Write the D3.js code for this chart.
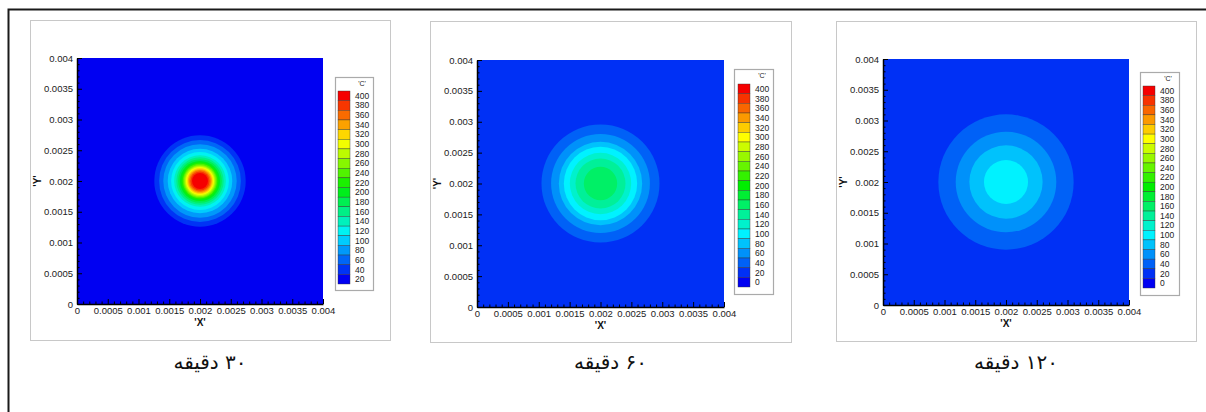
<!DOCTYPE html>
<html>
<head>
<meta charset="utf-8">
<script src="https://d3js.org/d3.v7.min.js"></script>
<style>
	body { margin: 0; padding: 0; background: #fff; }
	svg { display: block; }
	.tick text { font-family: 'Liberation Sans', Arial, sans-serif; fill: #222; }
	.axis-title { font-family: 'Liberation Sans', Arial, sans-serif; font-weight: bold; font-size: 10px; fill: #111; }
	.leg-label { font-family: 'Liberation Sans', Arial, sans-serif; font-size: 8.5px; fill: #222; }
	.caption { font-family: 'DejaVu Sans', sans-serif; font-size: 20px; fill: #111; }
</style>
</head>
<body>
<div id="chart"></div>
<script>
	// axis ticks (metres)
	var tickValues = [0, 0.0005, 0.001, 0.0015, 0.002, 0.0025, 0.003, 0.0035, 0.004];
	var tickLabels = ["0", "0.0005", "0.001", "0.0015", "0.002", "0.0025", "0.003", "0.0035", "0.004"];
	var minorTicks = [0.0001,0.0002,0.0003,0.0004,0.0006,0.0007,0.0008,0.0009,0.0011,0.0012,0.0013,0.0014,
		0.0016,0.0017,0.0018,0.0019,0.0021,0.0022,0.0023,0.0024,0.0026,0.0027,0.0028,0.0029,
		0.0031,0.0032,0.0033,0.0034,0.0036,0.0037,0.0038,0.0039];

	// colour legend levels ('C')
	var legend30 = [20,40,60,80,100,120,140,160,180,200,220,240,260,280,300,320,340,360,380,400];
	var legend60 = [0,20,40,60,80,100,120,140,160,180,200,220,240,260,280,300,320,340,360,380,400];
	var legend120 = [0,20,40,60,80,100,120,140,160,180,200,220,240,260,280,300,320,340,360,380,400];

	// hot spot centre (m)
	var centre = [0.002, 0.002];

	// level reached inside each contour ring, and the ring radius (m)
	var base30 = 20;
	var rings30 = [40,60,80,100,120,140,160,180,200,220,240,260,280,300,320,340,360,380,400];
	var radii30 = [0.000743,0.000665,0.000597,0.000525,0.00047,0.00042,0.000385,0.000355,0.000325,0.0003,
		0.00028,0.000262,0.000245,0.000228,0.00021,0.000193,0.000175,0.000155,0.00013];

	var base60 = 20;
	var rings60 = [40,60,80,100,120,140,160];
	var radii60 = [0.000956,0.0008,0.000675,0.000594,0.000497,0.000405,0.00027];

	var base120 = 20;
	var rings120 = [40,60,80,100];
	var radii120 = [0.0011,0.000818,0.000596,0.000358];

	var captions = ["\u06F3\u06F0 \u062F\u0642\u06CC\u0642\u0647", "\u06F6\u06F0 \u062F\u0642\u06CC\u0642\u0647", "\u06F1\u06F2\u06F0 \u062F\u0642\u06CC\u0642\u0647"];

	var panels = [
		{ box: [30, 20, 390, 340], plot: [77, 58, 323, 304], leg: [335, 77, 373, 290], sw: [338, 91, 350, 284],
		  legend: legend30, base: base30, rings: rings30, radii: radii30, caption: captions[0] },
		{ box: [430, 21, 791, 342], plot: [477, 60, 724, 307], leg: [734, 69, 773, 294], sw: [738, 84, 750, 287],
		  legend: legend60, base: base60, rings: rings60, radii: radii60, caption: captions[1] },
		{ box: [836, 21, 1196, 341], plot: [883, 59, 1129, 305], leg: [1140, 72, 1179, 295], sw: [1143, 86, 1155, 288],
		  legend: legend120, base: base120, rings: rings120, radii: radii120, caption: captions[2] }
	];

	var rainbow = d3.scaleLinear()
		.domain([0, 0.25, 0.5, 0.75, 1])
		.range(["#0000f2", "#00f2ff", "#00ee00", "#ffff00", "#f50000"])
		.interpolate(d3.interpolateRgb);

	var svg = d3.select("#chart").append("svg")
		.attr("width", 1206)
		.attr("height", 412);

	// outer frame
	svg.append("path")
		.attr("d", "M8.5,412 L8.5,9.5 L1206,9.5")
		.attr("fill", "none")
		.attr("stroke", "#1a1a1a")
		.attr("stroke-width", 2);

	panels.forEach(function(p){
		var lo = p.legend[0], hi = p.legend[p.legend.length - 1];
		var colorOf = function(v){ return rainbow((v - lo) / (hi - lo)); };

		var g = svg.append("g");

		g.append("rect")
			.attr("x", p.box[0] + 0.5).attr("y", p.box[1] + 0.5)
			.attr("width", p.box[2] - p.box[0]).attr("height", p.box[3] - p.box[1])
			.attr("fill", "#fff").attr("stroke", "#c8c8c8").attr("stroke-width", 1);

		var x = d3.scaleLinear().domain([0, 0.004]).range([p.plot[0], p.plot[2]]);
		var y = d3.scaleLinear().domain([0, 0.004]).range([p.plot[3], p.plot[1]]);

		var clipId = "clip" + p.plot[0];
		g.append("clipPath").attr("id", clipId).append("rect")
			.attr("x", x(0)).attr("y", y(0.004))
			.attr("width", x(0.004) - x(0)).attr("height", y(0) - y(0.004));

		var field = g.append("g").attr("clip-path", "url(#" + clipId + ")");
		field.append("rect")
			.attr("x", x(0)).attr("y", y(0.004))
			.attr("width", x(0.004) - x(0)).attr("height", y(0) - y(0.004))
			.attr("fill", colorOf(p.base));

		var ringData = p.rings.map(function(l, i){ return { level: l, r: p.radii[i] }; });
		field.selectAll("ellipse")
			.data(ringData)
			.enter().append("ellipse")
			.attr("cx", x(centre[0]))
			.attr("cy", y(centre[1]))
			.attr("rx", function(d){ return x(d.r) - x(0); })
			.attr("ry", function(d){ return y(0) - y(d.r); })
			.attr("fill", function(d){ return colorOf(d.level); });

		// axes, ticks pointing into the plot
		var xAxis = d3.axisBottom(x).tickValues(tickValues)
			.tickFormat(function(d, i){ return tickLabels[i]; })
			.tickSizeInner(-5).tickSizeOuter(0).tickPadding(3);
		var yAxis = d3.axisLeft(y).tickValues(tickValues)
			.tickFormat(function(d, i){ return tickLabels[i]; })
			.tickSizeInner(-5).tickSizeOuter(0).tickPadding(4);

		var gx = g.append("g").attr("transform", "translate(0," + y(0) + ")").call(xAxis);
		var gy = g.append("g").attr("transform", "translate(" + x(0) + ",0)").call(yAxis);
		[gx, gy].forEach(function(a){
			a.selectAll("text").style("font-size", "9.5px");
			a.selectAll("line").attr("stroke", "#000").attr("stroke-width", 1);
			a.select(".domain").attr("stroke", "#000").attr("stroke-width", 1.5);
		});

		g.append("g").attr("transform", "translate(0," + y(0) + ")")
			.call(d3.axisBottom(x).tickValues(minorTicks).tickFormat("").tickSize(-2.5))
			.call(function(a){ a.select(".domain").remove(); a.selectAll("line").attr("stroke", "#000"); });
		g.append("g").attr("transform", "translate(" + x(0) + ",0)")
			.call(d3.axisLeft(y).tickValues(minorTicks).tickFormat("").tickSize(-2.5))
			.call(function(a){ a.select(".domain").remove(); a.selectAll("line").attr("stroke", "#000"); });

		g.append("text").attr("class", "axis-title")
			.attr("x", x(0.002)).attr("y", y(0) + 22)
			.attr("text-anchor", "middle")
			.text("'X'");
		g.append("text").attr("class", "axis-title")
			.attr("transform", "translate(" + (x(0) - 36) + "," + y(0.002) + ") rotate(-90)")
			.attr("text-anchor", "middle")
			.text("'Y'");

		// colour legend
		g.append("rect")
			.attr("x", p.leg[0] + 0.5).attr("y", p.leg[1] + 0.5)
			.attr("width", p.leg[2] - p.leg[0]).attr("height", p.leg[3] - p.leg[1])
			.attr("fill", "#fff").attr("stroke", "#aaa").attr("stroke-width", 1.2);

		g.append("text").attr("class", "leg-label")
			.attr("x", p.leg[2] - 11).attr("y", p.leg[1] + 9)
			.attr("text-anchor", "middle")
			.style("font-size", "7px")
			.text("'C'");

		var levels = p.legend.slice().reverse();
		var sy = d3.scaleBand().domain(levels).range([p.sw[1], p.sw[3]]);
		var items = g.selectAll(".leg-item").data(levels).enter().append("g").attr("class", "leg-item");
		items.append("rect")
			.attr("x", p.sw[0]).attr("y", function(d){ return sy(d); })
			.attr("width", p.sw[2] - p.sw[0]).attr("height", sy.bandwidth())
			.attr("fill", function(d){ return colorOf(d); })
			.attr("stroke", "#333").attr("stroke-width", 0.4);
		items.append("text").attr("class", "leg-label")
			.attr("x", p.sw[2] + 5)
			.attr("y", function(d){ return sy(d) + sy.bandwidth() / 2 + 3; })
			.text(function(d){ return d; });

		g.append("text").attr("class", "caption")
			.attr("x", (p.box[0] + p.box[2]) / 2).attr("y", 369)
			.attr("text-anchor", "middle")
			.attr("direction", "rtl")
			.text(p.caption);
	});
</script>
</body>
</html>
